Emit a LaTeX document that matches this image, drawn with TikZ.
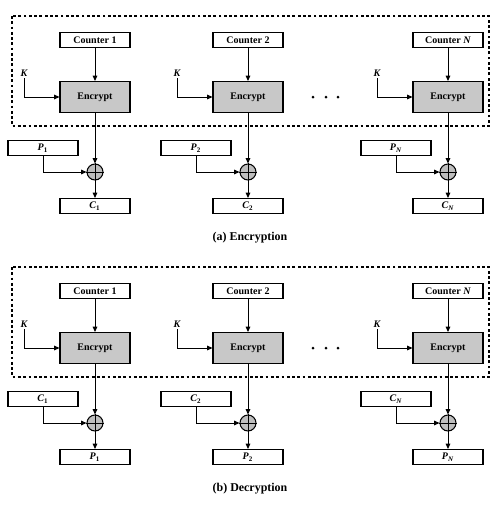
\documentclass[tikz,border=0pt]{standalone}
\usepackage{fontspec}
\setmainfont{Liberation Serif}
\usepackage{tikz}
\usetikzlibrary{arrows.meta,shapes,positioning,calc}
\definecolor{encGray}{RGB}{200,200,200}
\definecolor{xorGray}{RGB}{190,190,190}
\tikzset{
  blockbox/.style={draw,line width=0.6pt,minimum width=1.4cm,minimum height=0.3cm,
                   inner sep=0pt,font=\bfseries\fontsize{5.7}{6}\selectfont},
  encbox/.style={blockbox,fill=encGray,minimum height=0.62cm},
  xorop/.style={draw,circle,line width=0.6pt,fill=xorGray,minimum size=0.32cm,inner sep=0pt},
  keylbl/.style={font=\bfseries\itshape\fontsize{5.7}{6}\selectfont,inner sep=1pt},
  flow/.style={-{Triangle[length=3pt,width=2.6pt]},line width=0.55pt},
  ctrframe/.style={line width=0.8pt,dash pattern=on 1.6pt off 1.4pt},
  captxt/.style={font=\bfseries\fontsize{6.8}{8}\selectfont}
}
\begin{document}
\begin{tikzpicture}[x=0.02cm,y=-0.02cm]
  \useasboundingbox (0,0) rectangle (497,508);

  \foreach \h/\dy/\inp/\outp/\cap in {a/0/P/C/Encryption, b/251/C/P/Decryption}{
    % Caixa tracejada
    \draw[ctrframe] (12,16+\dy) rectangle (489,126+\dy);

    % Colunas
    \foreach \c/\cx/\n in {1/95/1, 2/248/2, N/448/\textit{N}}{
      \node[blockbox] (ctr\h\c) at (\cx,40+\dy){Counter \n};
      \node[encbox] (enc\h\c) at (\cx,97+\dy){Encrypt};
      \node[keylbl] (key\h\c) at (\cx-71,73+\dy){K};
      \node[blockbox] (in\h\c) at (\cx-52,148+\dy){\textit{\inp}\textsubscript{\n}};
      \node[xorop] (xor\h\c) at (\cx,172+\dy){};
      \node[blockbox] (out\h\c) at (\cx,206+\dy){\textit{\outp}\textsubscript{\n}};

      \draw[line width=0.5pt] (xor\h\c.north) -- (xor\h\c.south)
                              (xor\h\c.west) -- (xor\h\c.east);
      \draw[flow] (ctr\h\c) -- (enc\h\c);
      \draw[flow] (key\h\c.south) |- (enc\h\c.west);
      \draw[flow] (enc\h\c) -- (xor\h\c);
      \draw[flow] (in\h\c.south) |- (xor\h\c.west);
      \draw[flow] (xor\h\c) -- (out\h\c);
    }

    % Reticencias
    \foreach \x in {313,326,338}{
      \fill (\x,97+\dy) circle (1.5);
    }

    % Legenda
    \node[captxt] (cap\h) at (250,238+\dy){(\h) \cap};
  }
\end{tikzpicture}
\end{document}
